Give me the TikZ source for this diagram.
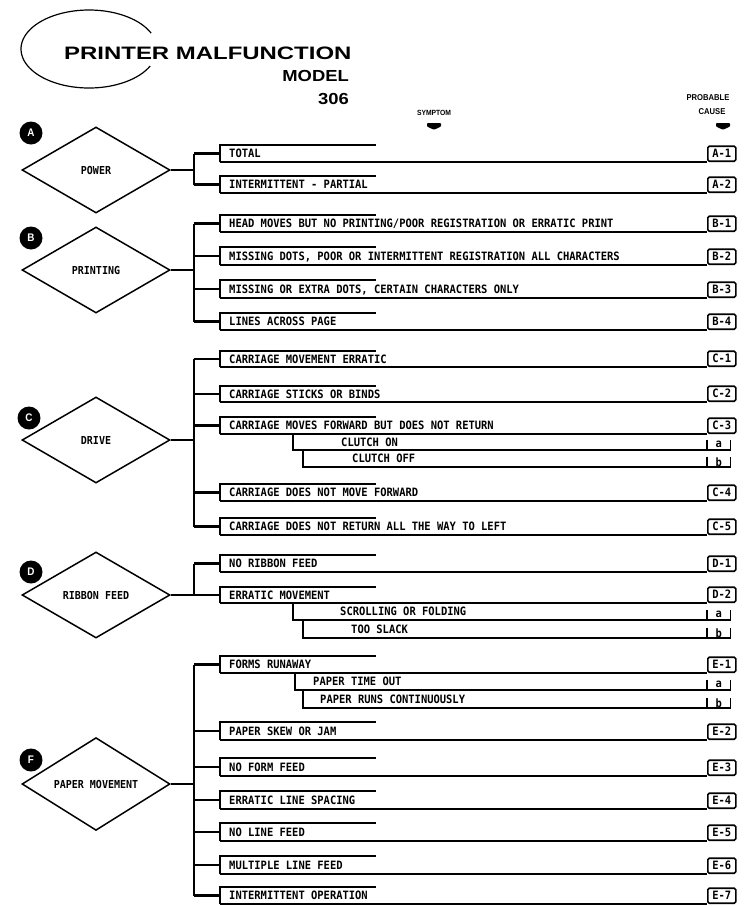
\documentclass[tikz,border=0pt]{standalone}
\usepackage{fontspec}
\usetikzlibrary{shapes.geometric}
\newfontfamily\twfont[FakeStretch=0.91]{DejaVu Sans Mono}
\newfontfamily\hdfont[FakeStretch=1.33]{Liberation Sans}
\newfontfamily\hdfontb[FakeStretch=1.15]{Liberation Sans}
\newfontfamily\lblfont[FakeStretch=0.9]{Liberation Sans}
\tikzset{
  rowline/.style={line width=1.6pt, line join=miter},
  trunk/.style={line width=2.1pt},
  symtext/.style={anchor=west, inner sep=0pt, text height=8.4pt, text depth=0pt,
    font=\twfont\bfseries\fontsize{11.5}{12}\selectfont},
  codebox/.style={draw, line width=1.6pt, rounded corners=1.5pt, anchor=south west,
    minimum width=28pt, minimum height=15pt, inner sep=0pt,
    font=\twfont\bfseries\fontsize{11.5}{11}\selectfont},
  subtag/.style={anchor=south west, minimum width=23pt, minimum height=10pt, inner sep=0pt,
    font=\twfont\bfseries\fontsize{11.5}{11}\selectfont},
  dia/.style={diamond, draw, line width=1.5pt, minimum width=148pt, minimum height=86pt,
    inner sep=0pt, text height=8.4pt, text depth=0pt,
    font=\twfont\bfseries\fontsize{11}{12}\selectfont},
  badge/.style={circle, fill=black, minimum size=23pt, inner sep=0pt, text=white,
    font=\lblfont\bfseries\fontsize{11}{11}\selectfont},
  hdlabel/.style={inner sep=0pt, font=\lblfont\bfseries\fontsize{8.5}{9}\selectfont}
}
\newcommand\symrow[5]{%
  \draw[rowline] (376,#2) -- (220,#2) -- (220,#3);
  \coordinate (#1L) at (220,{(#2+#3)/2});
  \node[symtext] (#1) at (229,{(#2+#3)/2}) {#4};
  \node[codebox] (#1C) at (707,#3) {#5};
  \draw[rowline] (220,#3) -- (#1C.south west);
}
\newcommand\subrow[7]{%
  \node[subtag] (#1T) at (707,#3) {#7};
  \draw[rowline] (#4,#2) -- (#4,#3) -- (#1T.south west);
  \draw[rowline] (#1T.north west) -- (#1T.south west) -- (#1T.south east) -- (#1T.north east);
  \node[symtext] (#1) at (#5,{(#2+#3)/2}) {#6};
}
\begin{document}
\begin{tikzpicture}[x=1pt,y=-1pt]
\useasboundingbox (0,0) rectangle (747,906);
\coordinate (tx) at (194,0);

% header
\draw[line width=1.2pt, shift={(89,49)}] plot[domain=24:334, samples=80, smooth] ({68*cos(\x)}, {-39*sin(\x)});
\node[anchor=west, inner sep=0pt, font=\hdfont\bfseries\fontsize{18}{18}\selectfont] (title) at (64,53) {PRINTER MALFUNCTION};
\node[anchor=east, inner sep=0pt, font=\hdfontb\bfseries\fontsize{16}{16}\selectfont] (model) at (349,76) {MODEL};
\node[anchor=east, inner sep=0pt, font=\hdfontb\bfseries\fontsize{16}{16}\selectfont] (num) at (349,99) {306};
\node[hdlabel, font=\lblfont\bfseries\fontsize{7.5}{8}\selectfont] (symptom) at (434,113) {SYMPTOM};
\fill[shift={(434,126)}, rounded corners=0.8pt] (-7,-3) -- (7,-3) -- (7,0.5) -- (0,3.8) -- (-7,0.5) -- cycle;
\node[hdlabel] (probable) at (708,98) {PROBABLE};
\node[hdlabel] (cause) at (712,112) {CAUSE};
\fill[shift={(723,126)}, rounded corners=0.8pt] (-7,-3) -- (7,-3) -- (7,0.5) -- (0,3.8) -- (-7,0.5) -- cycle;

% A
\node[dia] (dA) at (96,170) {POWER};
\node[badge] (bA) at (31,133) {A};
\symrow{a1}{145}{162}{TOTAL}{A-1}
\symrow{a2}{176}{193}{INTERMITTENT - PARTIAL}{A-2}
\draw[trunk] (tx |- a1L) -- (tx |- a2L);
\foreach \r in {a1,a2} \draw[trunk] (tx |- \r L) -- (\r L);
\draw[trunk] (dA.east) -- (tx |- dA.east);

% B
\node[dia] (dB) at (96,270) {PRINTING};
\node[badge] (bB) at (31,238) {B};
\symrow{b1}{215}{232}{HEAD MOVES BUT NO PRINTING/POOR REGISTRATION OR ERRATIC PRINT}{B-1}
\symrow{b2}{247}{265}{MISSING DOTS, POOR OR INTERMITTENT REGISTRATION ALL CHARACTERS}{B-2}
\symrow{b3}{280}{298}{MISSING OR EXTRA DOTS, CERTAIN CHARACTERS ONLY}{B-3}
\symrow{b4}{313}{330}{LINES ACROSS PAGE}{B-4}
\draw[trunk] (tx |- b1L) -- (tx |- b4L);
\foreach \r in {b1,b2,b3,b4} \draw[trunk] (tx |- \r L) -- (\r L);
\draw[trunk] (dB.east) -- (tx |- dB.east);

% C
\node[dia] (dC) at (96,440) {DRIVE};
\node[badge] (bC) at (29,418) {C};
\symrow{c1}{351}{367}{CARRIAGE MOVEMENT ERRATIC}{C-1}
\symrow{c2}{386}{402}{CARRIAGE STICKS OR BINDS}{C-2}
\symrow{c3}{417}{434}{CARRIAGE MOVES FORWARD BUT DOES NOT RETURN}{C-3}
\subrow{c3a}{434}{450}{293}{341}{CLUTCH ON}{a}
\subrow{c3b}{450}{467}{303}{352}{CLUTCH OFF}{b}
\symrow{c4}{484}{501}{CARRIAGE DOES NOT MOVE FORWARD}{C-4}
\symrow{c5}{518}{535}{CARRIAGE DOES NOT RETURN ALL THE WAY TO LEFT}{C-5}
\draw[trunk] (tx |- c1L) -- (tx |- c5L);
\foreach \r in {c1,c2,c3,c4,c5} \draw[trunk] (tx |- \r L) -- (\r L);
\draw[trunk] (dC.east) -- (tx |- dC.east);

% D
\node[dia] (dD) at (96,595) {RIBBON FEED};
\node[badge] (bD) at (31,572) {D};
\symrow{d1}{555}{572}{NO RIBBON FEED}{D-1}
\symrow{d2}{587}{603}{ERRATIC MOVEMENT}{D-2}
\subrow{d2a}{603}{620}{293}{340}{SCROLLING OR FOLDING}{a}
\subrow{d2b}{620}{638}{303}{351}{TOO SLACK}{b}
\draw[trunk] (tx |- d1L) -- (tx |- d2L);
\foreach \r in {d1,d2} \draw[trunk] (tx |- \r L) -- (\r L);
\draw[trunk] (dD.east) -- (tx |- dD.east);

% E
\node[dia] (dE) at (96,784) {PAPER MOVEMENT};
\node[badge] (bE) at (31,760) {F};
\symrow{e1}{656}{673}{FORMS RUNAWAY}{E-1}
\subrow{e1a}{673}{690}{295}{313}{PAPER TIME OUT}{a}
\subrow{e1b}{690}{708}{303}{320}{PAPER RUNS CONTINUOUSLY}{b}
\symrow{e2}{722}{740}{PAPER SKEW OR JAM}{E-2}
\symrow{e3}{758}{776}{NO FORM FEED}{E-3}
\symrow{e4}{791}{809}{ERRATIC LINE SPACING}{E-4}
\symrow{e5}{823}{841}{NO LINE FEED}{E-5}
\symrow{e6}{856}{874}{MULTIPLE LINE FEED}{E-6}
\symrow{e7}{887}{904}{INTERMITTENT OPERATION}{E-7}
\draw[trunk] (tx |- e1L) -- (tx |- e7L);
\foreach \r in {e1,e2,e3,e4,e5,e6,e7} \draw[trunk] (tx |- \r L) -- (\r L);
\draw[trunk] (dE.east) -- (tx |- dE.east);
\end{tikzpicture}
\end{document}
